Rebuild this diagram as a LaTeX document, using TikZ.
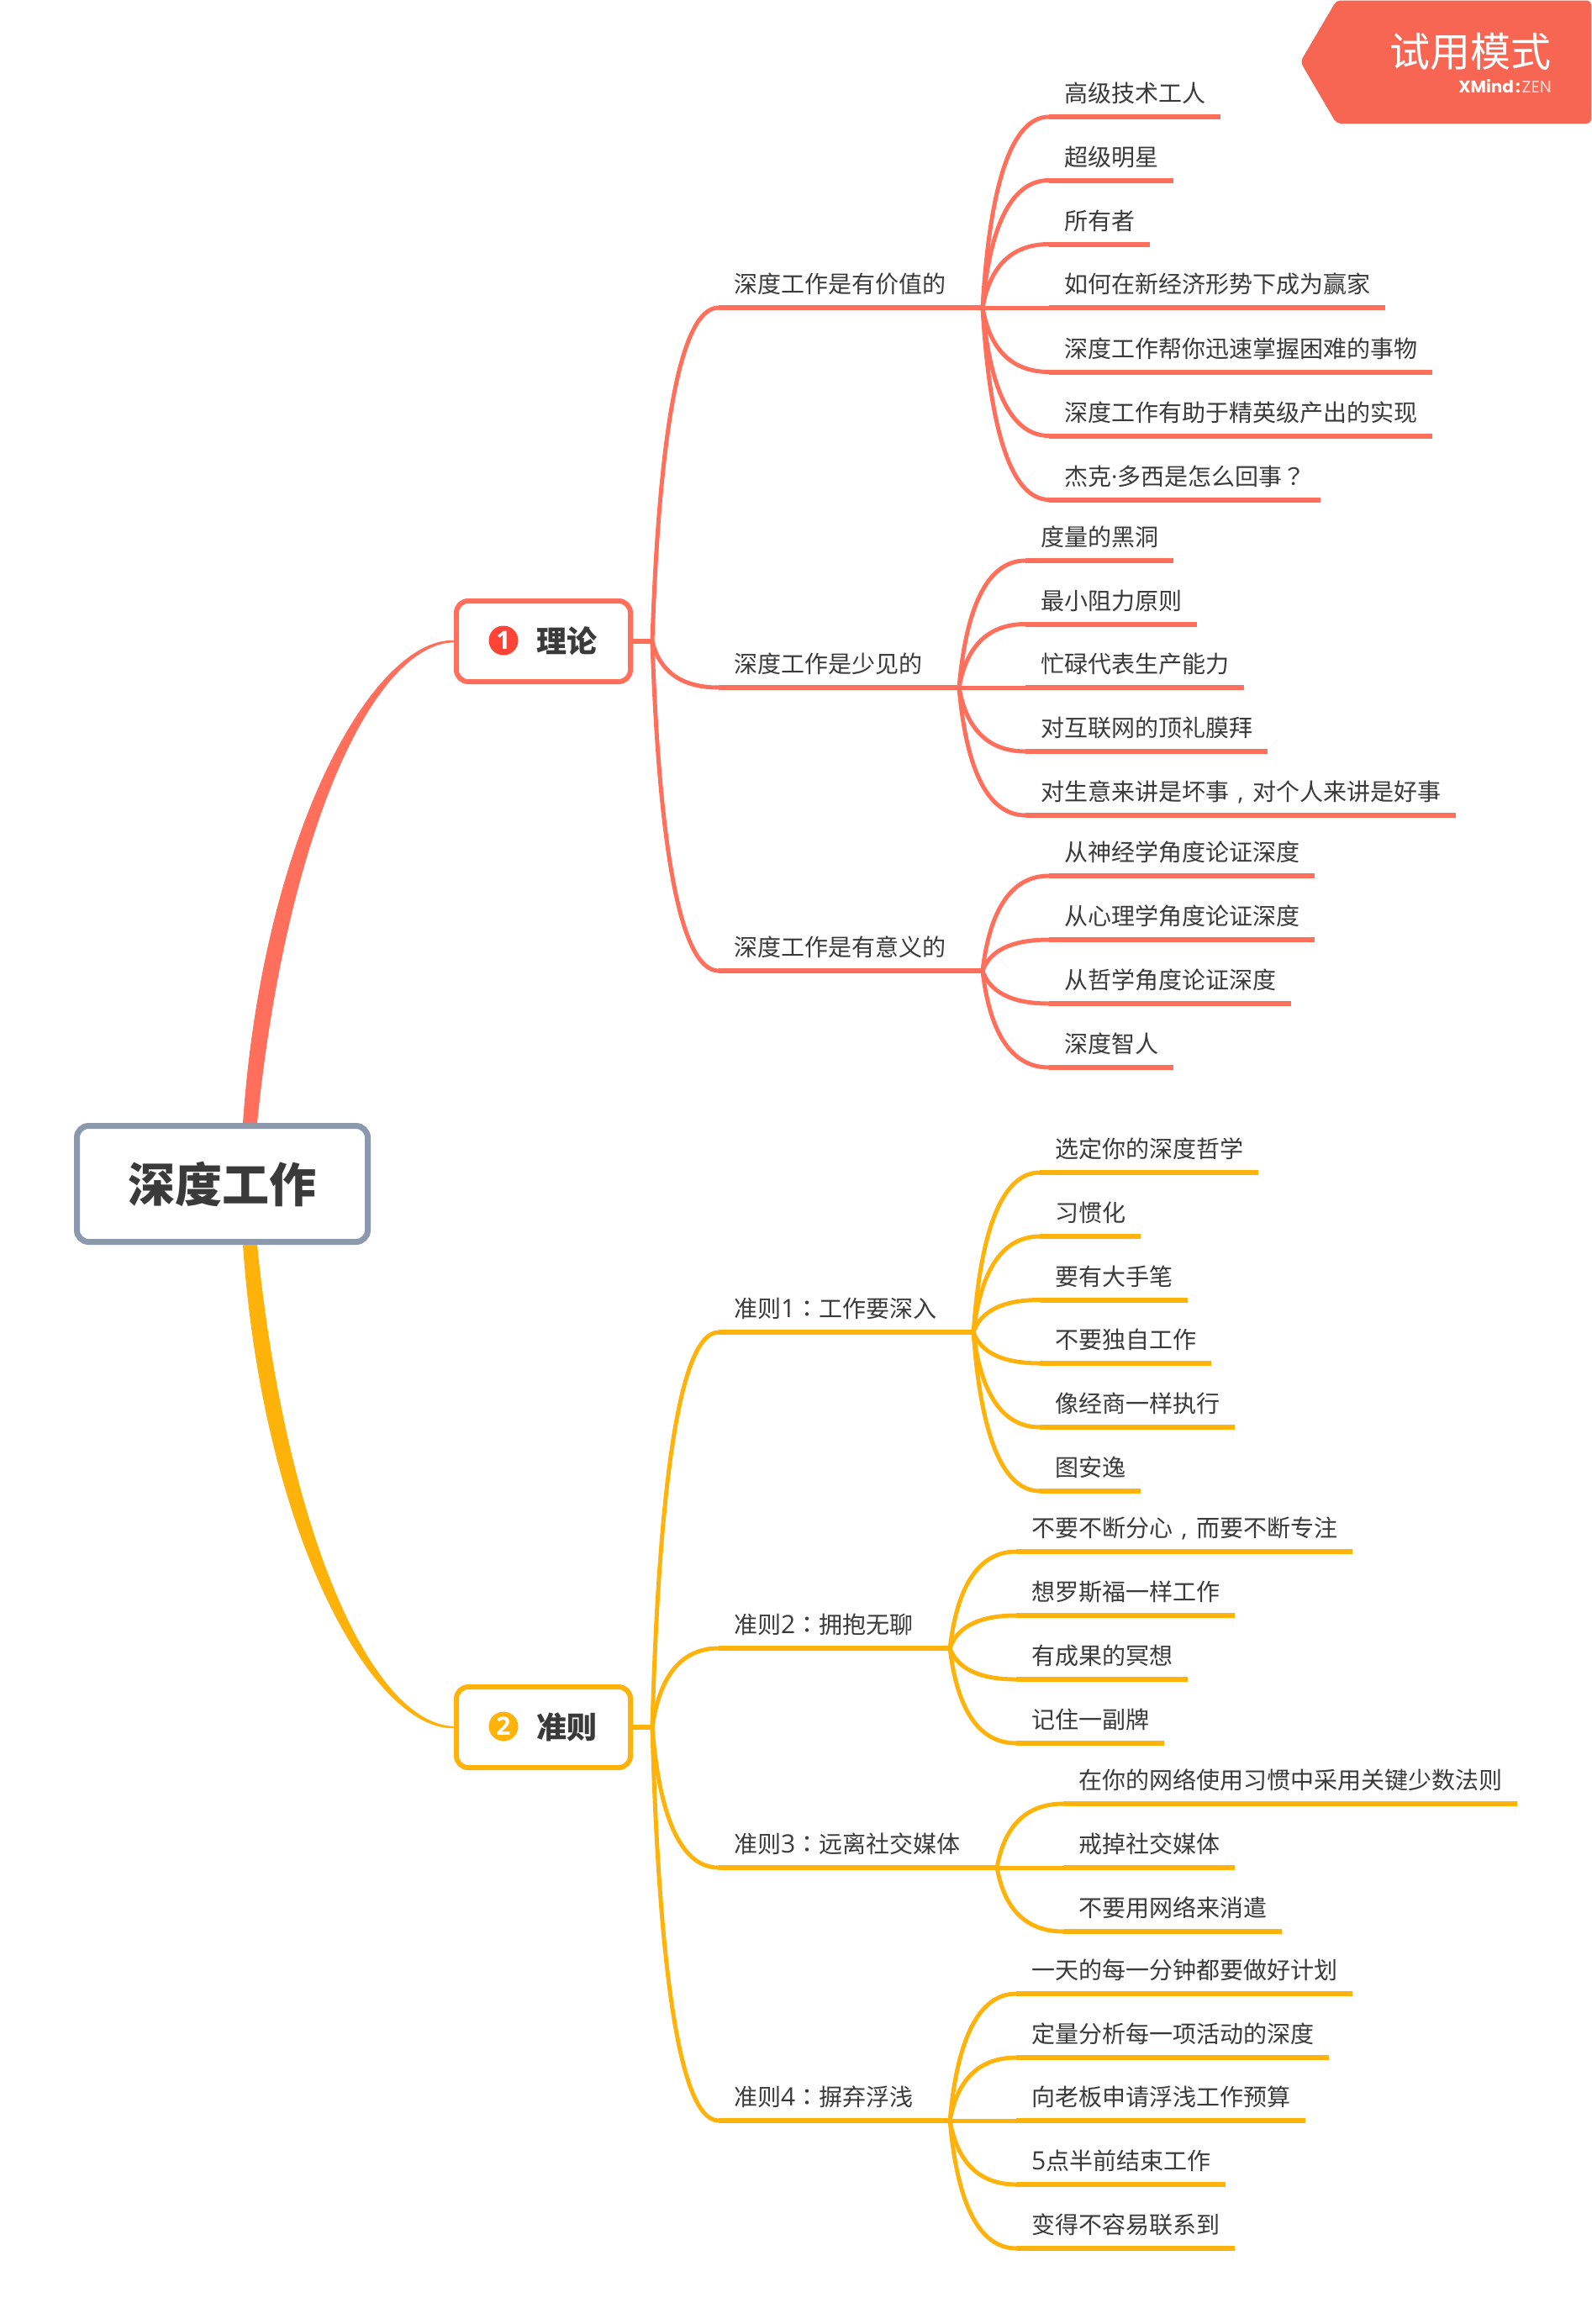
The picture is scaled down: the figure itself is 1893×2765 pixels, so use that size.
\documentclass[tikz,border=0pt]{standalone}
\usepackage{fontspec}
\setmainfont{Noto Sans CJK SC}
\newfontfamily\punctfont{Noto Sans CJK TC}
\newfontfamily\digitfont{Open Sans}
\newfontfamily\brandfont{Poppins}
\usetikzlibrary{calc}

\definecolor{coral}{HTML}{FF6F5B}
\definecolor{amber}{HTML}{FFB30A}
\definecolor{badge}{HTML}{F66652}
\definecolor{slate}{HTML}{8C98AB}
\definecolor{ink}{HTML}{3A3A3A}

\newcommand{\pct}[1]{{\punctfont #1}}
\newcommand{\cma}{\makebox[28pt][c]{\digitfont ,}}
\newcommand{\dgt}[1]{{\digitfont\fontsize{30}{34}\selectfont #1}}

\tikzset{
	curvy/.style={to path={let \p1=(\tikztostart), \p2=(\tikztotarget) in
		.. controls ({\x1+0.1*(\x2-\x1)},{\y1+0.6*(\y2-\y1)}) and ({\x1+0.4*(\x2-\x1)},\y2) .. (\tikztotarget)}},
	leafline/.style={line width=5pt, draw=#1},
	underline/.style={line width=6pt, draw=#1},
	labeltext/.style={anchor=south west, inner xsep=18pt, inner ysep=0pt, outer sep=0pt, minimum height=56pt,
		text height=24.5pt, text depth=3.5pt, text=ink, font=\fontsize{28}{34}\selectfont},
	rootbox/.style={draw=slate, line width=7pt, fill=white, rounded corners=14pt, minimum width=346pt,
		minimum height=138pt, inner sep=0pt, text=ink, font=\fontsize{56}{66}\selectfont\bfseries},
	topicbox/.style={draw=#1, line width=6pt, fill=white, rounded corners=14pt, minimum width=207pt,
		minimum height=96pt, inner sep=0pt, text=ink, font=\fontsize{36}{44}\selectfont\bfseries},
	numdot/.style={circle, fill=#1, minimum size=35pt, inner sep=0pt, text=white, font=\fontsize{30}{34}\digitfont\bfseries},
}

% thick at the root, thin at the topic
\newcommand{\taperline}[3]{\fill[#1] let \p1=(#2), \p2=(#3), \n1={\x2-\x1}, \n2={\y2-\y1} in
	({\x1-8.5pt},\y1) .. controls ({\x1+0.12*\n1-14pt},{\y1+0.6*\n2}) and ({\x1+0.6*\n1},{\y2+0.007*\n2}) .. ({\x2},{\y2+0.002*\n2})
	-- ({\x2},{\y2-0.002*\n2}) .. controls ({\x1+0.6*\n1},{\y2-0.007*\n2}) and ({\x1+0.12*\n1+14pt},{\y1+0.6*\n2}) .. ({\x1+8.5pt},\y1) -- cycle;}

% one branch: name, colour, position, text, topic hub
\newcommand{\branchline}[6]{
	\node[labeltext] (branch#1) at (855,#3) {#4};
	\coordinate (hub#1) at ([xshift=26pt]branch#1.south east);
	\draw[leafline=#2] (#5) to[curvy] (branch#1.south west);
	\draw[underline=#2] (branch#1.south west) -- (hub#1);
	\foreach \ypos/\txt [count=\k] in {#6} {
		\node[labeltext] (leaf#1\k) at ([xshift=79pt]hub#1 |- 0,\ypos) {\txt};
		\draw[leafline=#2] (hub#1) to[curvy] (leaf#1\k.south west);
		\draw[underline=#2] (leaf#1\k.south west) -- (leaf#1\k.south east);
	}
}

\begin{document}
\begin{tikzpicture}[x=1pt, y=-1pt]
	\useasboundingbox (0,0) rectangle (1893,2765);

	% centre
	\node[rootbox] (root) at (264.5,1408.5) {深度工作};

	\node[topicbox=coral] (topicA) at (646.5,763) {\hspace*{55pt}理论};
	\node[numdot=coral!60!red] (numA) at (599,762) {1};
	\coordinate (stemA) at ([xshift=23pt]topicA.east);
	\draw[underline=coral] (topicA.east) -- (stemA);

	\node[topicbox=amber] (topicB) at (646.5,2055) {\hspace*{55pt}准则};
	\node[numdot=amber] (numB) at (599,2054) {2};
	\coordinate (stemB) at ([xshift=23pt]topicB.east);
	\draw[underline=amber] (topicB.east) -- (stemB);

	\coordinate (rootA) at ([xshift=33pt]root.north);
	\coordinate (rootB) at ([xshift=33pt]root.south);
	\taperline{coral}{rootA}{topicA.west}
	\taperline{amber}{rootB}{topicB.west}

	% first topic
	\branchline{A}{coral}{366}{深度工作是有价值的}{stemA}{
		139/高级技术工人, 214.5/超级明星, 290.5/所有者, 366/如何在新经济形势下成为赢家,
		442.5/深度工作帮你迅速掌握困难的事物, 518.5/深度工作有助于精英级产出的实现, 594.5/杰克{\digitfont ·}多西是怎么回事\pct{？}}
	\branchline{B}{coral}{818}{深度工作是少见的}{stemA}{
		667/度量的黑洞, 742.5/最小阻力原则, 818/忙碌代表生产能力, 894/对互联网的顶礼膜拜, 970/对生意来讲是坏事\cma 对个人来讲是好事}
	\branchline{C}{coral}{1155}{深度工作是有意义的}{stemA}{
		1042/从神经学角度论证深度, 1118/从心理学角度论证深度, 1194/从哲学角度论证深度, 1270/深度智人}

	% second topic
	\branchline{D}{amber}{1585}{准则\dgt{1}\pct{：}工作要深入}{stemB}{
		1395/选定你的深度哲学, 1471/习惯化, 1546.5/要有大手笔, 1622/不要独自工作, 1698/像经商一样执行, 1774/图安逸}
	\branchline{E}{amber}{1961}{准则\dgt{2}\pct{：}拥抱无聊}{stemB}{
		1846/不要不断分心\cma 而要不断专注, 1922/想罗斯福一样工作, 1998/有成果的冥想, 2074/记住一副牌}
	\branchline{F}{amber}{2222}{准则\dgt{3}\pct{：}远离社交媒体}{stemB}{
		2146/在你的网络使用习惯中采用关键少数法则, 2222/戒掉社交媒体, 2298/不要用网络来消遣}
	\branchline{G}{amber}{2523}{准则\dgt{4}\pct{：}摒弃浮浅}{stemB}{
		2372/一天的每一分钟都要做好计划, 2448/定量分析每一项活动的深度, 2523/向老板申请浮浅工作预算,
		2599/\dgt{5}点半前结束工作, 2675/变得不容易联系到}

	% trial mark in the corner
	\fill[badge, rounded corners=5pt] (1893,0.5) -- (1590,0.5) -- (1547,73.5) -- (1590,147) -- (1893,147) -- cycle;
	\node[text=white, inner sep=0pt, font=\fontsize{48}{56}\selectfont] (trial) at (1749.5,61) {试用模式};
	\node[text=white, inner sep=0pt, anchor=east, font=\fontsize{20}{24}\brandfont] (brand) at (1846,103) {\textbf{XMind}\kern2pt\textbf{:}\kern2pt\textcolor{white!75!badge}{ZEN}};
\end{tikzpicture}
\end{document}
